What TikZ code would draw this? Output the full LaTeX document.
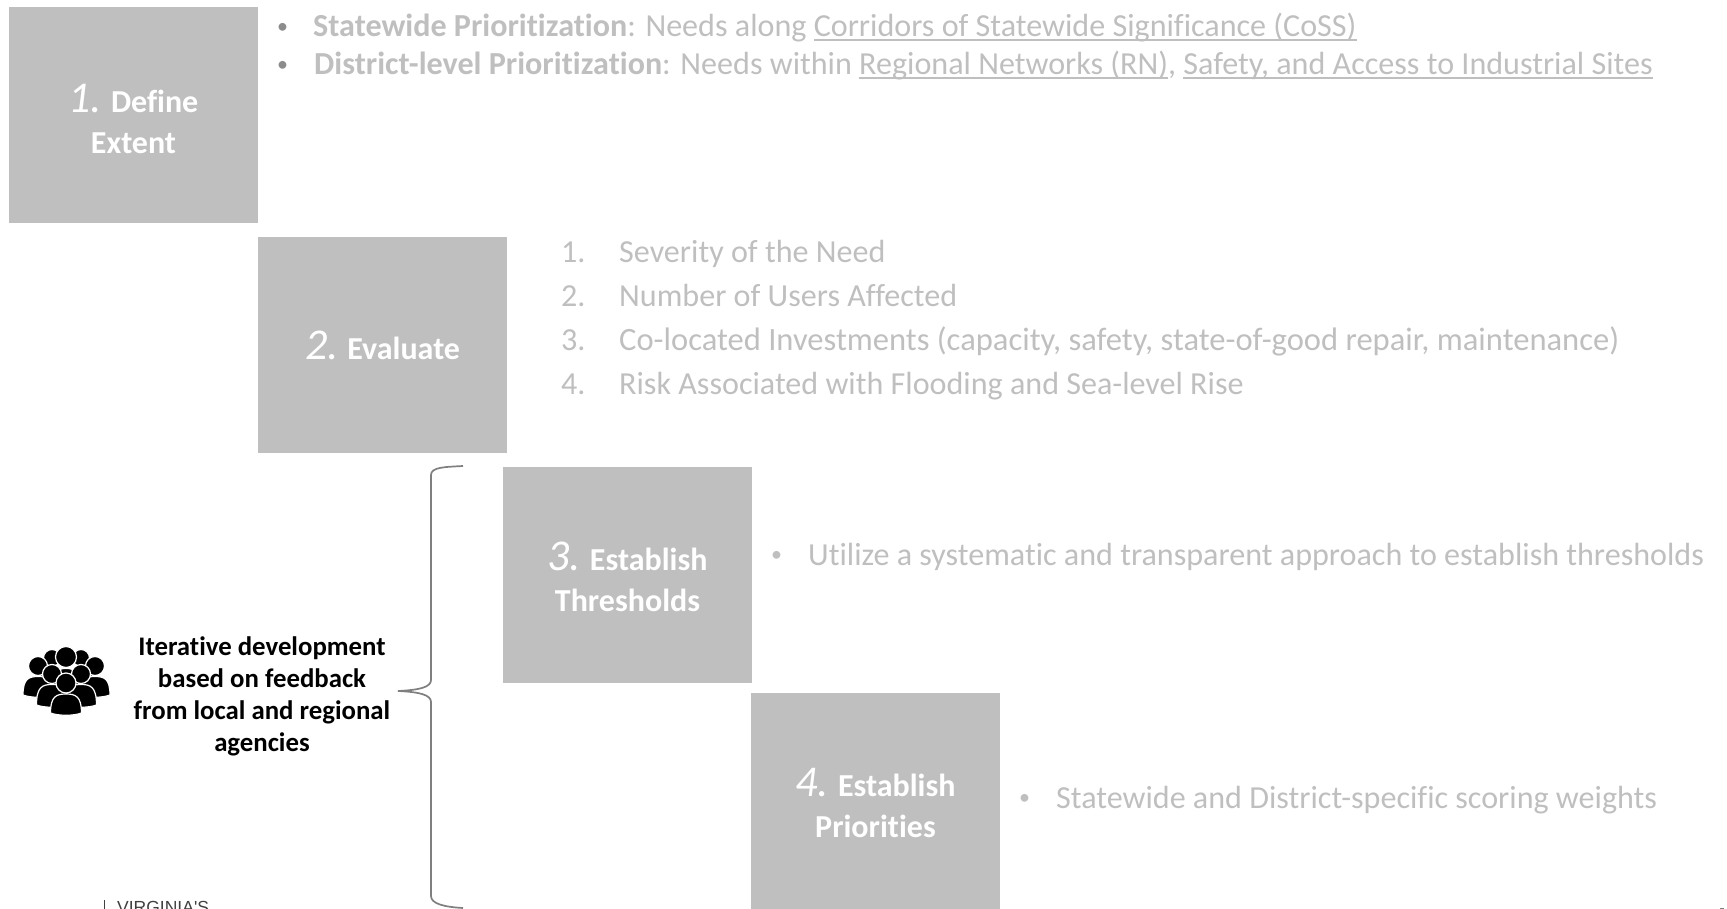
\documentclass[tikz,border=0pt]{standalone}
\usepackage{fontspec}
\setmainfont[Ligatures=NoCommon]{Carlito}
\newfontfamily\logofont{Liberation Sans}
\definecolor{boxgray}{HTML}{BFBFBF}
\definecolor{txtgray}{HTML}{BFBFBF}
\definecolor{bulgray}{HTML}{8C8C8C}
\definecolor{bracegray}{HTML}{7F7F7F}
\definecolor{logogray}{HTML}{404040}
\newcommand{\fs}[1]{\fontsize{#1}{#1}\selectfont}
\newlength{\ullen}
\newcommand{\ul}[1]{\settowidth{\ullen}{#1}\rlap{\rule[-3.6pt]{\ullen}{1.5pt}}#1}
\tikzset{x=1pt,y=-1pt,
 stepbox/.style={fill=boxgray,draw=none,minimum width=249pt,minimum height=216pt,inner sep=0pt,anchor=north west},
 steplabel/.style={text=white,align=center,font=\bfseries\fs{32},inner sep=0pt},
 listtext/.style={text=txtgray,font=\fs{32.1},anchor=base west,inner sep=0pt},
 bulletmark/.style={text=txtgray,font=\fs{22},anchor=base west,inner sep=0pt},
 agencytext/.style={text=black,align=center,font=\bfseries\fs{26.8},inner sep=0pt},
 logotext/.style={text=logogray,font=\logofont\fs{17.5},anchor=base west,inner sep=0pt},
 person/.style={fill=black,draw=white,line width=1.2pt}}
\newcommand{\num}[1]{{\mdseries\itshape\fs{44}#1}\hspace{9pt}}
% head x, head y, head radius, half shoulder width, bottom y
\newcommand{\personicon}[5]{%
 \path[person] (#1-#4,#5) .. controls (#1-#4,#2+#3+3) and (#1-#4*0.6,#2+#3+1) .. (#1,#2+#3+1)
  .. controls (#1+#4*0.6,#2+#3+1) and (#1+#4,#2+#3+3) .. (#1+#4,#5)
  .. controls (#1+#4*0.5,#5+3) and (#1-#4*0.5,#5+3) .. cycle;
 \path[person] (#1,#2) circle[radius=#3];}
\begin{document}
\begin{tikzpicture}
\useasboundingbox (0,0) rectangle (1727,909);
\node[stepbox] (b1) at (9,7) {};
\node[stepbox] (b2) at (258,237) {};
\node[stepbox] (b3) at (503,467) {};
\node[stepbox] (b4) at (751,693) {};
\node[steplabel,text width=240pt] (l1) at (133.5,119) {\num{1.}Define\\[9.3pt]Extent};
\node[steplabel] (l2) at (382.5,345) {\num{2.}Evaluate};
\node[steplabel,text width=240pt] (l3) at (627.5,577) {\num{3.}Establish\\[9.3pt]Thresholds};
\node[steplabel,text width=240pt] (l4) at (875.5,803) {\num{4.}Establish\\[9.3pt]Priorities};
% step 1
\node[bulletmark,text=bulgray] (d1) at (277,33.5) {•};
\node[listtext] (t1) at (313,37) {\textbf{Statewide Prioritization}: Needs along \ul{Corridors of Statewide Significance (CoSS)}};
\node[bulletmark,text=bulgray] (d2) at (277,71.5) {•};
\node[listtext] (t2) at (314,75) {\textbf{District-level Prioritization}: Needs within \ul{Regional Networks (RN)}, \ul{Safety, and Access to Industrial Sites}};
% step 2
\node[listtext] (n1) at (561,263) {1.};
\node[listtext] (s1) at (619,263) {Severity of the Need};
\node[listtext] (n2) at (561,307) {2.};
\node[listtext] (s2) at (619,307) {Number of Users Affected};
\node[listtext] (n3) at (561,351) {3.};
\node[listtext] (s3) at (619,351) {\fs{32.55}Co-located Investments (capacity, safety, state-of-good repair, maintenance)};
\node[listtext] (n4) at (561,394) {4.};
\node[listtext] (s4) at (619,394) {Risk Associated with Flooding and Sea-level Rise};
% step 3, 4
\node[bulletmark] (d3) at (771,561.5) {•};
\node[listtext] (t3) at (808,565) {Utilize a systematic and transparent approach to establish thresholds};
\node[bulletmark] (d4) at (1019,804.5) {•};
\node[listtext] (t4) at (1056,808) {Statewide and District-specific scoring weights};
% agencies
\node[agencytext] (ag) at (262,696) {Iterative development\\[5.2pt]based on feedback\\[5.2pt]from local and regional\\[5.2pt]agencies};
% brace
\coordinate (bt) at (463,466);
\coordinate (tip) at (398,691);
\coordinate (bb) at (463,908);
\draw[bracegray,line width=1.7pt] (bt) .. controls (445,467) and (431,467) .. (431,475)
 -- (431,680) .. controls (431,687) and (420,690) .. (tip)
 .. controls (420,692) and (431,695) .. (431,702)
 -- (431,896) .. controls (431,904) and (445,907) .. (bb);
% people icon
\personicon{52}{658}{8.5}{13}{690}
\personicon{81}{658}{8.5}{13}{690}
\personicon{66}{657}{10.5}{13}{690}
\personicon{38}{666}{9.5}{15}{695}
\personicon{95}{666}{9.5}{15}{695}
\personicon{52}{674}{9.5}{15.5}{705}
\personicon{81}{674}{9.5}{15.5}{705}
\personicon{66}{683}{10}{15.5}{713}
% cropped logo and page number
\node[logotext] (logo) at (117,913) {VIRGINIA'S};
\coordinate (lbt) at (104,900);
\coordinate (lbb) at (104,909);
\draw[logogray,line width=1pt] (lbt) -- (lbb);
\fill[gray] (1720,907.6) rectangle (1724,909);
\end{tikzpicture}
\end{document}
